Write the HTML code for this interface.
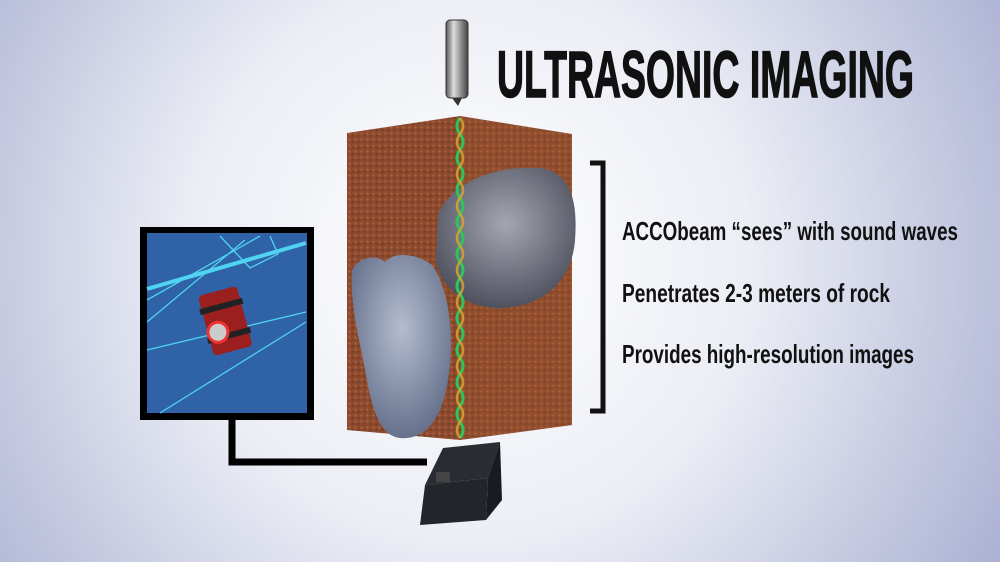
<!DOCTYPE html>
<html><head><style>
html,body{margin:0;padding:0;width:1000px;height:562px;overflow:hidden}
</style></head><body>
<svg width="1000" height="562" viewBox="0 0 1000 562" xmlns="http://www.w3.org/2000/svg">
<defs>
<radialGradient id="bg" cx="470" cy="260" r="620" gradientUnits="userSpaceOnUse">
<stop offset="0" stop-color="#ffffff"/><stop offset="0.45" stop-color="#eceef5"/><stop offset="1" stop-color="#a9afd2"/>
</radialGradient>
<linearGradient id="cyl" x1="0" x2="1"><stop offset="0" stop-color="#555"/><stop offset="0.35" stop-color="#ddd"/><stop offset="0.7" stop-color="#888"/><stop offset="1" stop-color="#444"/></linearGradient>
<pattern id="dots" width="6" height="6" patternUnits="userSpaceOnUse"><rect width="6" height="6" fill="#8c4a2e"/><circle cx="1.5" cy="1.5" r="1" fill="#b8673f"/><circle cx="4.5" cy="4" r="0.9" fill="#6a3420"/></pattern>
<radialGradient id="rk1" cx="0.5" cy="0.4" r="0.6"><stop offset="0" stop-color="#a4a7b2"/><stop offset="1" stop-color="#50535f"/></radialGradient>
<radialGradient id="rk2" cx="0.5" cy="0.4" r="0.6"><stop offset="0" stop-color="#b4bdd0"/><stop offset="1" stop-color="#66718c"/></radialGradient>
</defs>
<rect width="1000" height="562" fill="url(#bg)"/>
<rect x="446" y="20" width="22" height="78" rx="4" fill="url(#cyl)" stroke="#333" stroke-width="1"/>
<path d="M452 98 L462 98 L458 106 Z" fill="#333"/>
<polygon points="347,133 460,116 460,440 347,430" fill="url(#dots)"/>
<polygon points="460,116 572,134 572,425 460,440" fill="url(#dots)"/>
<polygon points="460,116 572,134 572,425 460,440" fill="#a05a35" opacity="0.25"/>
<path d="M438 215 C450 185 490 165 540 168 C570 172 578 200 575 240 C572 280 545 305 505 308 C470 310 440 290 436 260 Z" fill="url(#rk1)"/>
<path d="M352 270 C360 255 378 255 385 262 C395 250 420 255 432 265 C450 290 455 340 448 380 C442 420 425 440 400 438 C380 436 372 410 365 370 C360 340 350 310 352 270 Z" fill="url(#rk2)"/>
<path d="M460 118 q-6 8 0 16 q6 8 0 16 q-6 8 0 16 q6 8 0 16 q-6 8 0 16 q6 8 0 16 q-6 8 0 16 q6 8 0 16 q-6 8 0 16 q6 8 0 16 q-6 8 0 16 q6 8 0 16 q-6 8 0 16 q6 8 0 16 q-6 8 0 16 q6 8 0 16 q-6 8 0 16 q6 8 0 16 q-6 8 0 16 q6 8 0 16" fill="none" stroke="#2fc45a" stroke-width="3"/>
<path d="M460 118 q6 8 0 16 q-6 8 0 16 q6 8 0 16 q-6 8 0 16 q6 8 0 16 q-6 8 0 16 q6 8 0 16 q-6 8 0 16 q6 8 0 16 q-6 8 0 16 q6 8 0 16 q-6 8 0 16 q6 8 0 16 q-6 8 0 16 q6 8 0 16 q-6 8 0 16 q6 8 0 16 q-6 8 0 16 q6 8 0 16 q-6 8 0 16" fill="none" stroke="#d9a930" stroke-width="2.5" opacity="0.8"/>
<polygon points="425,485 443,448 500,442 488,478" fill="#2a2c33"/>
<polygon points="488,478 500,442 502,500 486,520" fill="#1a1b20"/>
<polygon points="425,485 488,478 486,520 420,525" fill="#23252b"/>
<rect x="436" y="472" width="14" height="10" fill="#444"/>
<polyline points="232,420 232,462 427,462" fill="none" stroke="#000" stroke-width="7"/>
<rect x="140" y="227" width="174" height="193" fill="#000"/>
<rect x="147" y="233" width="160" height="180" fill="#2f62a6"/>
<g stroke="#4fd3f0" fill="none" stroke-width="1.3">
<line x1="147" y1="289" x2="306" y2="243" stroke-width="4"/>
<line x1="147" y1="300" x2="260" y2="236"/>
<line x1="147" y1="350" x2="306" y2="312"/>
<line x1="160" y1="413" x2="306" y2="322"/>
<line x1="147" y1="322" x2="245" y2="240"/>
<path d="M220 236 L250 268 L278 254 L270 236"/>
</g>
<g transform="rotate(-15 225 320)">
<rect x="205" y="290" width="40" height="62" rx="4" fill="#9b1f1f"/>
<rect x="203" y="303" width="44" height="6" fill="#222"/>
<rect x="203" y="333" width="44" height="6" fill="#222"/>
<circle cx="215" cy="330" r="10" fill="#ccc" stroke="#e33" stroke-width="3"/>
</g>
<text x="497" y="97" font-family="'Liberation Sans Narrow','Liberation Sans',sans-serif" font-weight="bold" font-size="66" textLength="417" lengthAdjust="spacingAndGlyphs" fill="#111" stroke="#111" stroke-width="1.5">ULTRASONIC IMAGING</text>
<polyline points="590,163 603,163 603,411 590,411" fill="none" stroke="#111" stroke-width="5"/>
<g font-family="'Liberation Sans Narrow','Liberation Sans',sans-serif" font-weight="bold" font-size="26" fill="#111">
<text x="622" y="240" textLength="336" lengthAdjust="spacingAndGlyphs">ACCObeam “sees” with sound waves</text>
<text x="622" y="302" textLength="268" lengthAdjust="spacingAndGlyphs">Penetrates 2-3 meters of rock</text>
<text x="622" y="363" textLength="292" lengthAdjust="spacingAndGlyphs">Provides high-resolution images</text>
</g>
</svg>
</body></html>
